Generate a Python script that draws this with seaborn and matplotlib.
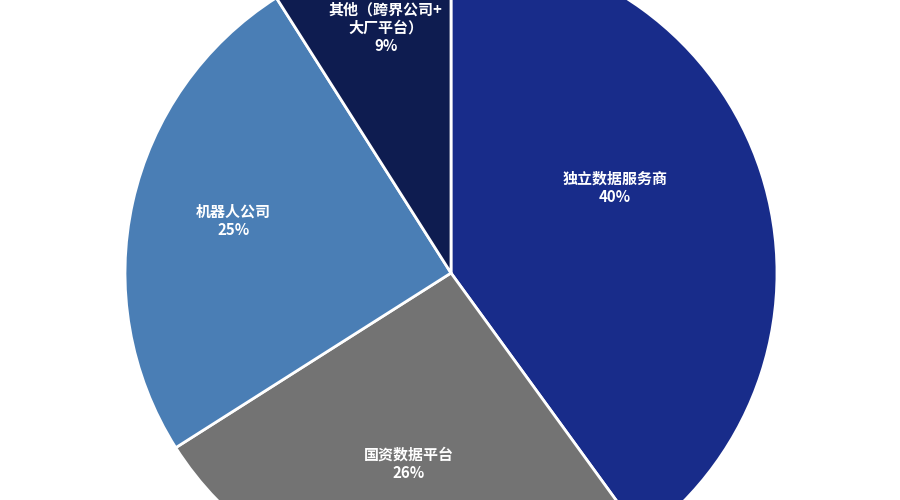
import matplotlib
matplotlib.use("Agg")
import matplotlib.pyplot as plt
import seaborn as sns
import numpy as np

# data
categories = ["独立数据服务商", "国资数据平台", "机器人公司", "其他（跨界公司+\n大厂平台）"]
shares = [40, 26, 25, 9]
colors = ["#182C8A", "#737373", "#4A7EB5", "#0E1C50"]

# label placement (angle offset in degrees, radius) relative to wedge middle
label_offsets = [(9.4, 0.567), (-1.6, 0.60), (-0.8, 0.687), (-1.3, 0.778)]

sns.set_theme(style="white")
plt.rcParams['font.family'] = ['Noto Sans CJK SC', 'DejaVu Sans']

fig = plt.figure(figsize=(9, 5), dpi=100)
ax = fig.add_axes([0, 0, 1, 1])

wedges, _ = ax.pie(shares, colors=colors, startangle=90, counterclock=False,
                   wedgeprops=dict(edgecolor="white", linewidth=2))

for w, name, val, (da, r) in zip(wedges, categories, shares, label_offsets):
    mid = np.deg2rad((w.theta1 + w.theta2) / 2 + da)
    ax.text(r * np.cos(mid), r * np.sin(mid), f"{name}\n{val}%",
            ha="center", va="center", color="white", fontsize=10.8,
            fontweight="bold", linespacing=1.15)

# pie is larger than the canvas, so it gets clipped
ax.set_aspect("auto")
ax.set_xlim(-451 / 326, 449 / 326)
ax.set_ylim(-227 / 326, 273 / 326)
ax.axis("off")

plt.savefig("out.png", dpi=100)
